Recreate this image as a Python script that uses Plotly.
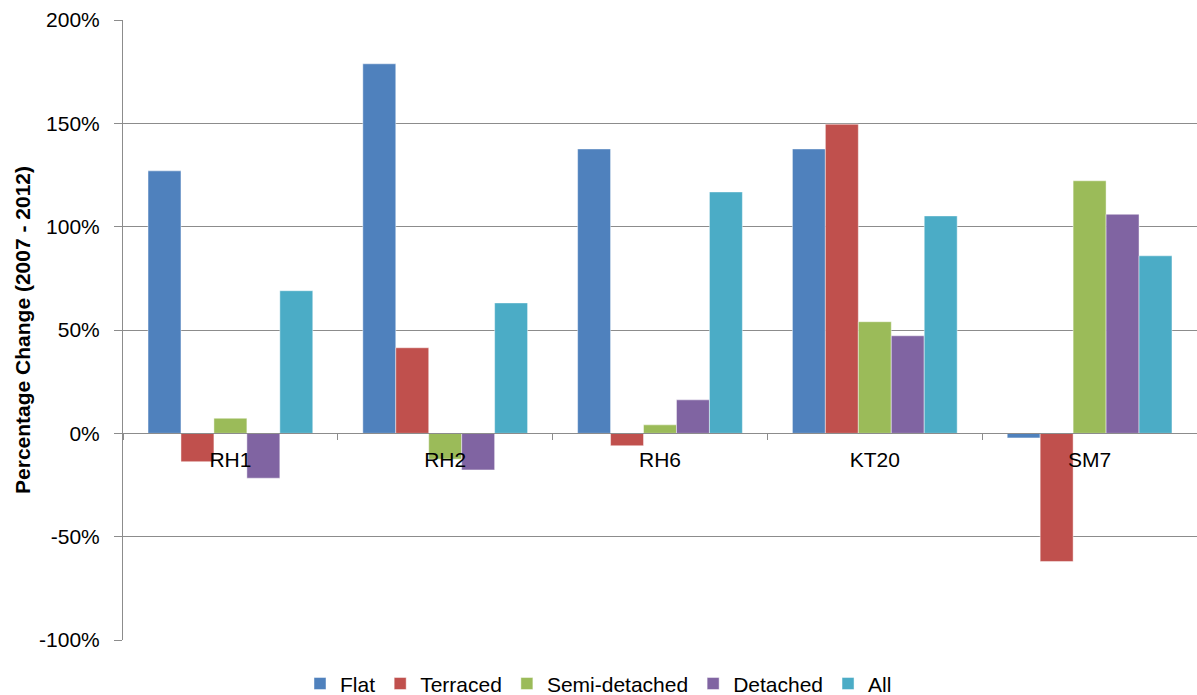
import plotly.graph_objects as go

# Postcode districts and percentage change in values by property type
districts = ["RH1", "RH2", "RH6", "KT20", "SM7"]
flat = [127, 178.8, 137.6, 137.6, -2.2]
terraced = [-13.7, 41.4, -6, 149.6, -62]
semi_detached = [7.3, -12.5, 4.1, 54, 122.2]
detached = [-21.7, -17.7, 16.2, 47.2, 106]
all_types = [69, 63.1, 116.8, 105.2, 85.9]

# Value-axis ticks (hyphen-minus labels)
y_tick_values = [-100, -50, 0, 50, 100, 150, 200]
y_tick_labels = ["-100%", "-50%", "0%", "50%", "100%", "150%", "200%"]

series = [
    ("Flat", flat, "#4F81BD"),
    ("Terraced", terraced, "#C0504D"),
    ("Semi-detached", semi_detached, "#9BBB59"),
    ("Detached", detached, "#8064A2"),
    ("All", all_types, "#4BACC6"),
]

fig = go.Figure()
for name, vals, color in series:
    fig.add_trace(go.Bar(
        name=name, x=districts, y=vals,
        marker=dict(color=color, line=dict(color="rgba(255,255,255,0.45)", width=1)),
    ))

font_family = "Liberation Sans, Arial, sans-serif"

fig.update_layout(
    width=1197, height=695,
    margin=dict(l=123, r=0, t=20, b=55, autoexpand=False),
    paper_bgcolor="white", plot_bgcolor="white",
    barmode="group", bargap=0.233, bargroupgap=0,
    font=dict(family=font_family, size=21, color="#000000"),
    showlegend=True,
    legend=dict(
        orientation="h", xref="container", yref="container",
        x=0.5, xanchor="center", y=0.016, yanchor="middle",
        font=dict(size=21), itemwidth=30, tracegroupgap=0,
    ),
    xaxis=dict(
        type="category", anchor="free", position=1/3,
        showline=True, linecolor="#8c8c8c", linewidth=1,
        ticks="outside", tickson="boundaries", ticklen=6, tickcolor="#8c8c8c",
        ticklabelstandoff=7,
        showgrid=False, zeroline=False,
        tickfont=dict(size=21),
    ),
    yaxis=dict(
        range=[-100, 200],
        tickmode="array", tickvals=y_tick_values, ticktext=y_tick_labels,
        showgrid=True, gridcolor="#8c8c8c", gridwidth=1,
        showline=True, linecolor="#8c8c8c", linewidth=1,
        ticks="outside", ticklen=8, tickcolor="#8c8c8c",
        ticklabelstandoff=10,
        zeroline=False,
        tickfont=dict(size=21),
        title=dict(text="<b>Percentage Change (2007 - 2012)</b>",
                   font=dict(size=21), standoff=2),
    ),
)

fig.write_html("out.html")
